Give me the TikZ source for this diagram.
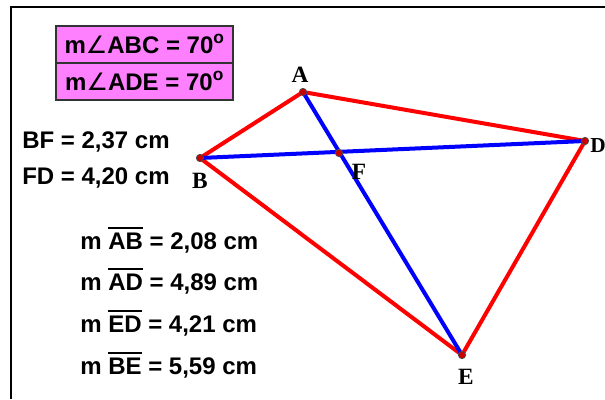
\documentclass[tikz,border=0pt]{standalone}
\usepackage{fontspec}
\setmainfont{Liberation Sans}
\newfontfamily\ptfont{Liberation Serif}
\newfontfamily\angfont{DejaVu Sans}
\usepackage{tikz}
\usetikzlibrary{positioning}
\definecolor{gpink}{HTML}{FF80FF}
\definecolor{gred}{HTML}{FF0000}
\definecolor{gblue}{HTML}{0000FF}
\definecolor{gdot}{HTML}{CC0000}
\newcommand{\seg}[1]{\vbox{\hrule height 1.4pt\kern2.6pt\hbox{#1}}}
\newcommand{\ang}{{\angfont\mdseries\char"2220}}
\newcommand{\dgr}{\raisebox{0.42em}{\fontsize{13}{13}\selectfont o}}

\begin{document}
\begin{tikzpicture}[x=0.75pt,y=-0.75pt,font=\fontsize{18}{20}\selectfont\bfseries,
  angbox/.style={rectangle,draw=black!80,line width=1.2pt,fill=gpink,inner sep=0pt,minimum width=132.75pt,minimum height=27.75pt,anchor=north west},
  meas/.style={anchor=base west,inner sep=0pt},
  lbl/.style={font=\ptfont\fontsize{17.5}{19}\selectfont\bfseries,inner sep=0pt},
  side/.style={line width=3pt,gred},
  diag/.style={line width=3pt,gblue},
  dot/.style={circle,fill=gdot,draw=black!70,line width=0.6pt,inner sep=0pt,minimum size=5.5pt}]
\useasboundingbox (0,0) rectangle (605,399);
% ---- frame ----
\draw[line width=1.5pt] (11,399) -- (11,7) -- (605,7);
% ---- angle boxes ----
\node[angbox] (abc) at (55,25) {m\ang ABC = 70\dgr};
\node[angbox] (ade) at (55,62) {m\ang ADE = 70\dgr};
% ---- lengths ----
\node[meas] (bf) at (22,148) {BF = 2,37 cm};
\node[meas] (fd) at (22,184) {FD = 4,20 cm};
\node[meas] (ab) at (80,249) {m \seg{AB} = 2,08 cm};
\node[meas] (ad) at (80,290) {m \seg{AD} = 4,89 cm};
\node[meas] (ed) at (80,332) {m \seg{ED} = 4,21 cm};
\node[meas] (be) at (80,374) {m \seg{BE} = 5,59 cm};
% ---- quadrilateral ----
\coordinate (A) at (303,92);
\coordinate (B) at (200,158);
\coordinate (D) at (585,141);
\coordinate (E) at (462,355);
\coordinate (F) at (339,153);
\draw[side] (A) -- (D) -- (E) -- (B) -- cycle;
\draw[diag] (A) -- (E);
\draw[diag] (B) -- (D);
\foreach \p in {A,B,D,E,F}{
  \node[dot] (d\p) at (\p) {};}
% ---- point labels ----
\node[lbl] (lA) at (300,75) {A};
\node[lbl] (lB) at (200,181) {B};
\node[lbl,anchor=west,font=\ptfont\fontsize{16}{18}\selectfont\bfseries] (lD) at (590,146) {D};
\node[lbl] (lF) at (359,172) {F};
\node[lbl] (lE) at (466,377) {E};
\end{tikzpicture}
\end{document}
